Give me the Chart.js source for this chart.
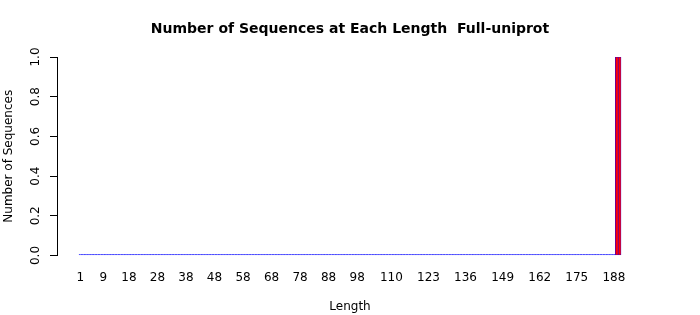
<!DOCTYPE html>
<html>
<head>
<meta charset="utf-8">
<script src="https://cdn.jsdelivr.net/npm/chart.js@4/dist/chart.umd.min.js"></script>
<style>
  html, body { margin: 0; padding: 0; background: #fff; }
</style>
</head>
<body>
<canvas id="chart" width="700" height="315"></canvas>
<script>
// Sequence lengths and how many sequences have each length
const lengths = [];
for (let i = 1; i <= 190; i++) lengths.push(i);
const counts = lengths.map(len => (len === 189 || len === 190) ? 1 : 0);

// Length labels that R printed under the bars
const shownLengths = [1, 9, 18, 28, 38, 48, 58, 68, 78, 88, 98, 110, 123, 136, 149, 162, 175, 188];
const yTicks = [0, 0.2, 0.4, 0.6, 0.8, 1.0];

Chart.defaults.font.family = 'DejaVu Sans';
Chart.defaults.color = '#000';

const ctx = document.getElementById('chart').getContext('2d');
const chart = new Chart(ctx, {
    type: 'bar',
    data: {
        datasets: [{
            data: lengths.map((len, i) => ({ x: len, y: counts[i] })),
            // empty lengths still show as a flat blue outline like R's barplot
            backgroundColor: c => (c.raw && c.raw.y > 0) ? '#ff0000' : '#0000ff',
            borderColor: '#0000ff',
            borderWidth: 0.6,
            borderSkipped: false,
            minBarLength: 1,
            barPercentage: 1,
            categoryPercentage: 1
        }]
    },
    options: {
        responsive: false,
        animation: false,
        layout: { padding: 0 },
        plugins: {
            legend: { display: false },
            tooltip: { enabled: false },
            title: {
                display: true,
                text: 'Number of Sequences at Each Length  Full-uniprot',
                font: { size: 14, weight: 'bold' },
                padding: { top: 20.6, bottom: 19.6 }
            }
        },
        scales: {
            x: {
                type: 'linear',
                offset: false,
                min: -7.212,
                max: 198.212,
                afterFit: s => { s.height = 59.5; },
                afterBuildTicks: s => { s.ticks = shownLengths.map(v => ({ value: v })); },
                grid: { display: false, drawTicks: false },
                border: { display: false },
                ticks: { autoSkip: false, maxRotation: 0, padding: 15.5, font: { size: 12 } },
                title: { display: true, text: 'Length', font: { size: 12 }, padding: { top: 0, bottom: 0.8 } }
            },
            y: {
                min: 0,
                max: 1,
                afterFit: s => { s.width = 57; },
                afterBuildTicks: s => { s.ticks = yTicks.map(v => ({ value: v })); },
                grid: { drawOnChartArea: false, drawTicks: true, tickLength: 7, color: '#000' },
                border: { display: true, color: '#000' },
                ticks: {
                    minRotation: 90,
                    maxRotation: 90,
                    crossAlign: 'center',
                    padding: 5,
                    font: { size: 12 },
                    callback: v => v.toFixed(1)
                },
                title: { display: true, text: 'Number of Sequences', font: { size: 12 }, padding: { top: 2, bottom: 0 } }
            },
            // empty right margin, keeps the title centred on the whole canvas
            yRight: {
                position: 'right',
                afterFit: s => { s.width = 57; },
                grid: { display: false },
                border: { display: false },
                ticks: { display: false }
            }
        }
    }
});
</script>
</body>
</html>
